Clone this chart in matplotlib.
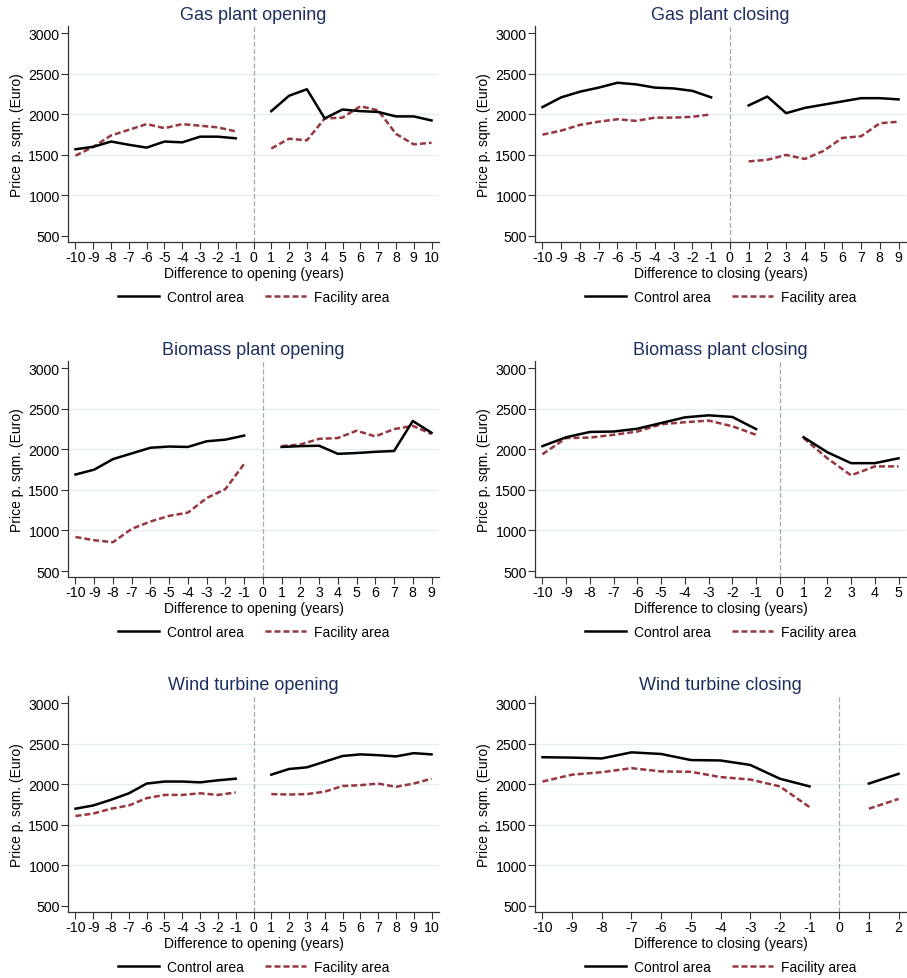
#!/usr/bin/env python3

import numpy as np
import matplotlib
matplotlib.use("Agg")
import matplotlib.pyplot as plt

plt.rcParams["font.family"] = ["Liberation Sans", "DejaVu Sans"]
plt.rcParams["axes.unicode_minus"] = False

# event years (0 is the event itself, no observation)
years_10_10 = [-10, -9, -8, -7, -6, -5, -4, -3, -2, -1, 1, 2, 3, 4, 5, 6, 7, 8, 9, 10]
years_10_9 = [-10, -9, -8, -7, -6, -5, -4, -3, -2, -1, 1, 2, 3, 4, 5, 6, 7, 8, 9]
years_10_5 = [-10, -9, -8, -7, -6, -5, -4, -3, -2, -1, 1, 2, 3, 4, 5]
years_10_2 = [-10, -9, -8, -7, -6, -5, -4, -3, -2, -1, 1, 2]

gas_open_control = [1570, 1600, 1665, 1625, 1590, 1665, 1655, 1725, 1725, 1705,
                    2040, 2230, 2310, 1950, 2060, 2040, 2030, 1975, 1975, 1925]
gas_open_facility = [1490, 1600, 1740, 1810, 1880, 1830, 1880, 1860, 1840, 1790,
                     1580, 1700, 1680, 1950, 1960, 2100, 2050, 1760, 1630, 1650]

gas_close_control = [2090, 2210, 2280, 2330, 2390, 2370, 2330, 2320, 2290, 2210,
                     2110, 2220, 2015, 2080, 2120, 2160, 2200, 2200, 2185]
gas_close_facility = [1750, 1800, 1870, 1910, 1940, 1920, 1960, 1960, 1970, 2000,
                      1420, 1440, 1500, 1450, 1550, 1710, 1730, 1890, 1910]

bio_open_control = [1690, 1750, 1880, 1950, 2020, 2035, 2030, 2100, 2120, 2170,
                    2030, 2040, 2045, 1945, 1955, 1970, 1980, 2350, 2205]
bio_open_facility = [920, 880, 855, 1020, 1110, 1180, 1220, 1400, 1510, 1820,
                     2040, 2060, 2130, 2140, 2230, 2160, 2250, 2290, 2190]

bio_close_control = [2040, 2150, 2215, 2220, 2255, 2325, 2395, 2420, 2400, 2250,
                     2150, 1965, 1830, 1830, 1890]
bio_close_facility = [1940, 2140, 2145, 2180, 2220, 2310, 2335, 2355, 2285, 2180,
                      2140, 1890, 1680, 1790, 1790]

wind_open_control = [1700, 1740, 1810, 1890, 2010, 2035, 2035, 2025, 2050, 2070,
                     2120, 2190, 2210, 2280, 2350, 2370, 2360, 2345, 2385, 2370]
wind_open_facility = [1610, 1640, 1700, 1740, 1830, 1870, 1870, 1890, 1870, 1900,
                      1880, 1875, 1880, 1910, 1980, 1990, 2010, 1970, 2010, 2070]

wind_close_control = [2335, 2330, 2320, 2395, 2375, 2300, 2295, 2240, 2070, 1975,
                      2010, 2130]
wind_close_facility = [2035, 2120, 2150, 2200, 2160, 2155, 2090, 2060, 1975, 1720,
                       1700, 1820]

panels = [
    ("Gas plant opening", "Difference to opening (years)", years_10_10, gas_open_control, gas_open_facility),
    ("Gas plant closing", "Difference to closing (years)", years_10_9, gas_close_control, gas_close_facility),
    ("Biomass plant opening", "Difference to opening (years)", years_10_9, bio_open_control, bio_open_facility),
    ("Biomass plant closing", "Difference to closing (years)", years_10_5, bio_close_control, bio_close_facility),
    ("Wind turbine opening", "Difference to opening (years)", years_10_10, wind_open_control, wind_open_facility),
    ("Wind turbine closing", "Difference to closing (years)", years_10_2, wind_close_control, wind_close_facility),
]

y_ticks = [500, 1000, 1500, 2000, 2500, 3000]

TITLE_COLOR = "#1d2f5f"
FACILITY_COLOR = "#96363f"
GRID_COLOR = "#e4edf0"
AXIS_COLOR = "#333333"

W, H = 907, 979
lefts = [68, 535]
tops = [27, 362, 697]
ax_w, ax_h = 371, 216


def draw_panel(ax, title, xlabel, years, control, facility):
    years = np.array(years)
    control = np.array(control, dtype=float)
    facility = np.array(facility, dtype=float)
    pre = years < 0
    post = years > 0

    for yv in y_ticks[1:-1]:
        ax.axhline(yv, color=GRID_COLOR, lw=0.9, zorder=0)
    ax.axvline(0, color="#a8a8a8", lw=0.9, dashes=(4, 1.8), zorder=1)

    for mask in (pre, post):
        ax.plot(years[mask], control[mask], color="black", lw=1.8,
                solid_joinstyle="round", label="Control area" if mask is pre else None, zorder=3)
        ax.plot(years[mask], facility[mask], color=FACILITY_COLOR, lw=1.8,
                dashes=(2.4, 1.2), label="Facility area" if mask is pre else None, zorder=2)

    lo, hi = years.min(), years.max()
    span = hi - lo
    ax.set_xlim(lo - 0.021 * span, hi + 0.021 * span)
    ax.set_ylim(426, 3090)
    ax.set_xticks(range(lo, hi + 1))
    ax.set_yticks(y_ticks)
    ax.tick_params(axis="both", labelsize=10.2, length=5, width=0.8,
                   color=AXIS_COLOR, pad=1)
    for side in ("top", "right"):
        ax.spines[side].set_visible(False)
    for side in ("left", "bottom"):
        ax.spines[side].set_color(AXIS_COLOR)
        ax.spines[side].set_linewidth(0.9)

    ax.set_title(title, fontsize=13, color=TITLE_COLOR, pad=5)
    ax.set_xlabel(xlabel, fontsize=10, labelpad=1)
    ax.set_ylabel("Price p. sqm. (Euro)", fontsize=10, labelpad=3)
    ax.legend(loc="center", bbox_to_anchor=(0.5, -0.255), ncol=2, frameon=False,
              fontsize=10, handlelength=3.0, handletextpad=0.55, columnspacing=1.5)


def main():
    fig = plt.figure(figsize=(W / 100, H / 100), dpi=100)
    for i, (title, xlabel, years, control, facility) in enumerate(panels):
        row, col = divmod(i, 2)
        left = lefts[col] / W
        bottom = (H - tops[row] - ax_h) / H
        ax = fig.add_axes([left, bottom, ax_w / W, ax_h / H])
        draw_panel(ax, title, xlabel, years, control, facility)
    fig.savefig("out.png", dpi=100)


if __name__ == "__main__":
    main()
